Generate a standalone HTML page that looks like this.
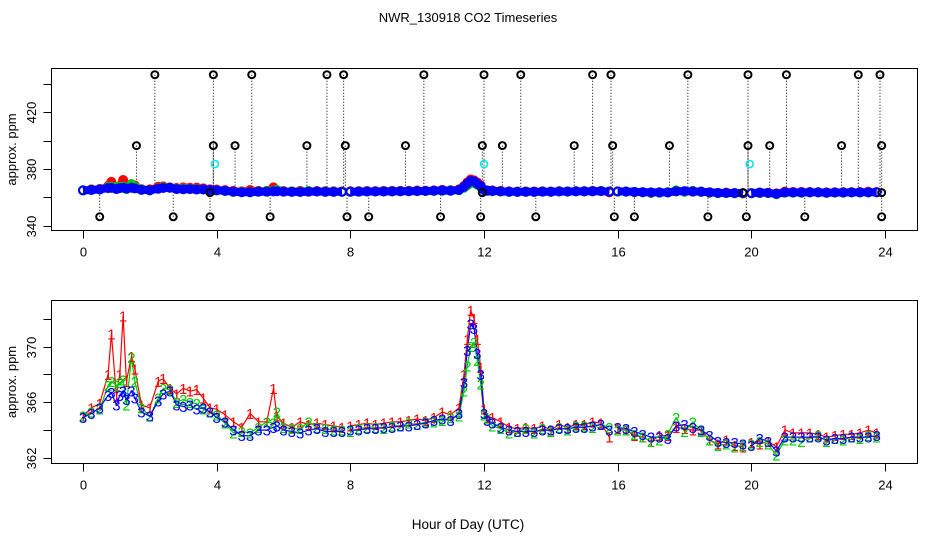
<!DOCTYPE html>
<html><head><meta charset="utf-8"><style>
html,body{margin:0;padding:0;background:#fff;}
svg{display:block;font-family:"Liberation Sans",sans-serif;}
</style></head><body>
<svg id="chart" width="936" height="540" xmlns="http://www.w3.org/2000/svg">
<rect width="936" height="540" fill="#fff"/>
<text x="468" y="22" text-anchor="middle" font-size="13">NWR_130918  CO2 Timeseries</text>
<text x="468" y="529" text-anchor="middle" font-size="13.5">Hour of Day (UTC)</text>
<g id="topPanel"></g>
<g id="botPanel"></g>
</svg>
<script>
const hours=[0,0.25,0.5,0.75,0.85,1.0,1.1,1.2,1.3,1.45,1.55,1.75,2.0,2.25,2.4,2.6,2.8,3.0,3.2,3.4,3.6,3.8,4.0,4.25,4.5,4.75,5.0,5.25,5.5,5.7,5.8,6.0,6.25,6.5,6.75,7.0,7.25,7.5,7.75,7.85,8.0,8.25,8.5,8.75,9.0,9.25,9.5,9.75,10.0,10.25,10.5,10.75,11.0,11.25,11.4,11.5,11.6,11.7,11.8,11.9,12.0,12.1,12.25,12.5,12.75,13.0,13.25,13.5,13.75,14.0,14.25,14.5,14.75,15.0,15.25,15.5,15.75,15.85,16.0,16.25,16.5,16.75,17.0,17.25,17.5,17.75,18.0,18.25,18.5,18.75,19.0,19.25,19.5,19.75,19.88,20.0,20.25,20.5,20.75,21.0,21.25,21.5,21.75,22.0,22.25,22.5,22.75,23.0,23.25,23.5,23.75];
const series1=[365.0,365.6,365.9,368,370.9,366.5,368,372.2,367.5,369.3,368.4,365.8,365.6,367.5,367.7,367.0,366.6,367.0,366.8,366.9,366.3,365.6,365.5,365.1,364.6,364.2,365.2,364.6,364.6,367.0,365.0,364.5,364.2,364.6,364.4,364.5,364.4,364.3,364.2,null,364.3,364.4,364.5,364.4,364.5,364.6,364.6,364.7,364.8,364.7,364.9,365.3,365.1,365.6,368.0,370.5,372.6,372.0,370.5,368.5,365.5,364.9,364.9,364.6,364.2,364.1,364.2,364.1,364.3,364.0,364.4,364.2,364.4,364.4,364.6,364.5,363.5,null,364.1,364.0,363.6,363.5,363.2,363.6,363.6,364.2,364.1,364.0,364.0,363.3,363.0,363.3,362.9,362.8,null,363.1,363.0,363.2,362.8,364.0,363.8,363.8,363.8,363.7,363.5,363.6,363.7,363.7,363.8,364.0,363.8];
const series2=[365.0,365.3,365.5,367.2,367.5,367.2,367.4,367.6,365.8,369.2,367.5,365.6,365.0,366.3,367.0,366.9,366.0,366.2,366.0,365.9,365.5,365.3,365.1,364.5,363.8,363.9,363.8,364.2,364.6,364.5,365.3,364.2,364.1,364.1,364.6,364.2,364.1,364.0,364.0,null,363.9,364.1,364.2,364.2,364.1,364.3,364.3,364.5,364.4,364.6,364.6,364.7,364.9,365.0,366.8,368.6,370.0,370.3,369.0,367.3,365.1,364.8,364.3,364.1,363.8,363.9,364.1,363.8,364.1,363.9,364.2,364.0,364.3,364.3,364.2,364.4,364.2,null,364.0,364.0,363.7,363.5,363.2,363.3,363.7,364.9,363.9,364.6,363.9,363.3,362.9,363.0,362.8,362.9,null,363.0,363.2,363.0,362.2,363.3,363.3,363.2,363.5,363.6,363.2,363.4,363.3,363.5,363.4,363.6,363.5];
const series3=[364.9,365.2,365.6,366.5,366.7,365.8,366.5,366.8,366.2,366.8,366.3,365.3,365.0,366.1,366.6,366.8,365.8,365.7,365.8,365.5,365.6,365.3,364.9,364.6,364.0,363.6,363.6,364.0,364.0,364.2,364.3,364.0,363.9,363.8,364.0,364.1,363.9,363.9,363.9,null,364.0,364.0,364.1,364.1,364.2,364.2,364.3,364.3,364.4,364.5,364.7,364.8,364.7,365.2,367.4,369.7,371.6,371.3,369.5,368.0,365.2,364.7,364.5,364.2,364.0,363.9,363.9,363.9,364.0,364.0,364.1,364.1,364.2,364.2,364.3,364.4,364.0,null,364.2,364.1,363.9,363.7,363.5,363.5,363.4,364.3,364.4,364.2,364.0,363.6,363.2,363.1,363.1,363.0,null,362.9,363.4,363.2,362.5,363.5,363.5,363.5,363.5,363.5,363.3,363.4,363.4,363.5,363.5,363.5,363.6];
const outlierHours=[2.15,3.9,5.05,7.3,7.8,10.2,12.0,13.1,15.25,15.8,18.1,19.9,21.05,23.2,23.85,1.6,3.9,4.55,6.7,7.85,9.65,11.95,12.55,14.7,15.85,17.55,19.9,20.55,22.7,23.9,0.5,2.7,3.8,5.6,7.9,8.55,10.7,11.9,13.55,15.9,16.5,18.7,19.85,21.6,23.9,3.8,11.95,19.75,23.9];
const outlierValues=[446.5,446.5,446.5,446.5,446.5,446.5,446.5,446.5,446.5,446.5,446.5,446.5,446.5,446.5,446.5,396.5,396.5,396.5,396.5,396.5,396.5,396.5,396.5,396.5,396.5,396.5,396.5,396.5,396.5,396.5,346.3,346.3,346.3,346.3,346.3,346.3,346.3,346.3,346.3,346.3,346.3,346.3,346.3,346.3,346.3,363.3,363.3,363.3,363.3];
const cyanHours=[3.95,12.0,19.95];
const cyanValues=[383.5,383.5,383.5];
const xTicks=[0,4,8,12,16,20,24];
const topYTicks=[340,360,380,400,420,440];
const topYLabels=["340","","380","","420",""];
const botYTicks=[362,364,366,368,370,372];
const botYLabels=["362","","366","","370",""];

const NS="http://www.w3.org/2000/svg";
const X0=51.5,X1=917.5;
function xs(h){return 83+h*(885-83)/24;}
function ysTop(v){return 225.7-(v-340)*(225.7-112.3)/80;}
function ysBot(v){return 458-(v-362)*(458-346.5)/8;}
function mk(tag,attrs,parent){const e=document.createElementNS(NS,tag);for(const k in attrs)e.setAttribute(k,attrs[k]);parent.appendChild(e);return e;}

function frame(g,y0,y1,ys,ticks,labels,prefix){
  let r=mk('rect',{x:X0,y:y0,width:X1-X0,height:y1-y0,fill:'none',stroke:'#000','stroke-width':1},g);
  
  
  xTicks.forEach((t,i)=>{
    const x=Math.round(xs(t))+0.5;
    let l=mk('line',{x1:x,x2:x,y1:y1,y2:y1+8,stroke:'#000'},g);
    
    
    let tx=mk('text',{x:x,y:y1+26,'text-anchor':'middle','font-size':13},g);
    tx.textContent=String(t);
    
    
  });
  ticks.forEach((t,i)=>{
    const y=Math.round(ys(t))+0.5;
    let l=mk('line',{x1:X0-8,x2:X0,y1:y,y2:y,stroke:'#000'},g);
    
    
    if(labels[i]){
      let tx=mk('text',{x:0,y:0,'text-anchor':'middle','font-size':13,transform:`translate(36,${y}) rotate(-90)`},g);
      tx.textContent=labels[i];
      
      
    }
  });
  let at=mk('text',{x:0,y:0,'text-anchor':'middle','font-size':13,transform:`translate(16,${(y0+y1)/2}) rotate(-90)`},g);
  at.textContent='approx. ppm';
  
  
}
function pathFor(vals,ys){
  let d='',pen=false;
  vals.forEach((v,i)=>{if(v==null){pen=false;return;}d+=(pen?'L':'M')+xs(hours[i]).toFixed(1)+' '+ys(v).toFixed(1);pen=true;});
  return d;
}

// TOP PANEL
const topG=document.getElementById('topPanel');
frame(topG,68.5,230.5,ysTop,topYTicks,topYLabels,'top');
outlierHours.forEach((h,i)=>{
  const x=xs(h),y=ysTop(outlierValues[i]);
  let l=mk('line',{x1:x,x2:x,y1:y,y2:ysTop(364),stroke:'#000','stroke-width':1,'stroke-dasharray':'1,2'},topG);
  
  
});
const cols=['#ff0000','#00cc00','#0000ff'];
[series1,series2,series3].forEach((s,k)=>{
  let p=mk('path',{d:pathFor(s,ysTop),fill:'none',stroke:cols[k],'stroke-width':k==2?8:7,'stroke-linejoin':'round'},topG);
  
  
  s.forEach((v,i)=>{if(v==null)return;
    let c=mk('circle',{cx:xs(hours[i]),cy:ysTop(v),r:4,fill:'none',stroke:cols[k],'stroke-width':2},topG);
    
    
  });
});
outlierHours.forEach((h,i)=>{
  let c=mk('circle',{cx:xs(h),cy:ysTop(outlierValues[i]),r:3.5,fill:'none',stroke:'#000','stroke-width':2},topG);
  
  
});
cyanHours.forEach((h,i)=>{
  let c=mk('circle',{cx:xs(h),cy:ysTop(cyanValues[i]),r:3.5,fill:'none',stroke:'#00e5ee','stroke-width':1.6},topG);
  
  
});

// BOTTOM PANEL
const botG=document.getElementById('botPanel');
frame(botG,300.5,463.5,ysBot,botYTicks,botYLabels,'bottom');
const labs=['1','2','3'];
[series1,series2,series3].forEach((s,k)=>{
  let p=mk('path',{d:pathFor(s,ysBot),fill:'none',stroke:cols[k],'stroke-width':1.2},botG);
  
  
});
[series1,series2,series3].forEach((s,k)=>{
  s.forEach((v,i)=>{if(v==null)return;
    let t=mk('text',{x:xs(hours[i]),y:ysBot(v)+5.5,'text-anchor':'middle','font-size':15,fill:cols[k]},botG);
    t.textContent=labs[k];
    
    
  });
});
</script>
</body></html>
